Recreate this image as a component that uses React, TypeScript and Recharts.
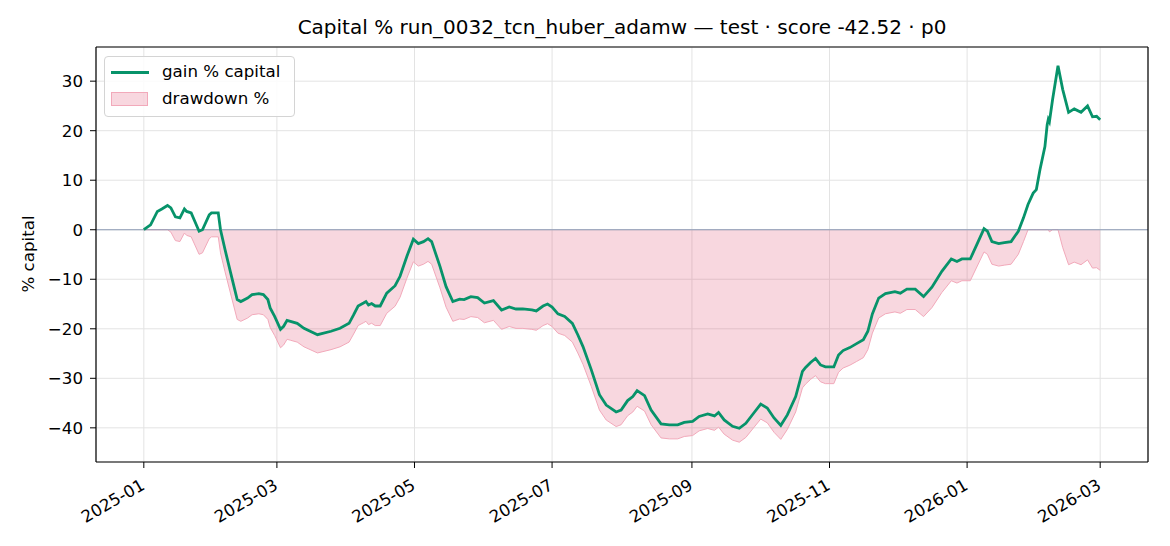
import { Area, CartesianGrid, ComposedChart, Legend, Line, ReferenceLine, XAxis, YAxis } from 'recharts'

// Capital % over the test period: gain line + drawdown band below 0.
// x = days since 2025-01-01.

const FONT = '"DejaVu Sans", Verdana, sans-serif'
const GREEN = '#07936a'
const PINK = '#e0486e'
const PINK_EDGE = '#f2a9ba'

const dayOffset = [
  0, 3, 6, 8, 10.5, 12, 14, 16, 18, 19, 21, 24.5, 26, 29, 30, 33, 34, 36, 38.5, 41.4,
  43, 46, 48, 51, 53, 55, 56, 58, 60.6, 62, 63.5, 65, 68, 71, 77, 83, 87, 91, 93, 95,
  97.4, 98.5, 99.6, 101, 102.6, 104.8, 107.7, 111.4, 113.6, 116.6, 119.5, 121.7, 124, 126, 127.6, 131.3, 134, 137, 140, 142,
  145, 148, 151, 155, 158.6, 162, 165, 168, 172, 174, 177, 179, 181, 183.6, 186.6, 190, 192.4, 194.7, 198.4, 202,
  205, 209.4, 211.6, 214.5, 216.8, 218.7, 222, 224.9, 229.3, 233, 236.7, 239.6, 243.3, 246.2, 250, 253, 254.8, 257.3, 261, 264,
  266.9, 270.6, 273.5, 276.4, 279.4, 282.4, 285.3, 289, 292, 293.4, 295.6, 297.8, 300, 302.2, 305.9, 308, 310, 313, 316, 319,
  321, 323, 325.8, 328.8, 333, 335.4, 338.3, 342, 345.7, 349.4, 353.8, 358, 360.5, 362.7, 366.4, 369.3, 372.5, 374, 376, 379,
  381.5, 384.5, 387.7, 390, 392, 394.3, 395.7, 397.3, 399.5, 400.5, 401, 401.5, 402.9, 405.3, 407.4, 410, 412.5, 415.5, 418.4, 420.6,
  422.4, 424,
]

const gainPct = [
  0, 1.0, 3.7, 4.2, 4.9, 4.4, 2.6, 2.4, 4.2, 3.7, 3.4, -0.3, 0, 3.0, 3.4, 3.4, 0, -4.0, -8.7, -14.1,
  -14.5, -13.8, -13.1, -12.9, -13.1, -14.1, -15.8, -17.5, -20.1, -19.5, -18.3, -18.5, -18.9, -19.9, -21.2, -20.5, -19.9, -18.9, -17.2, -15.4,
  -14.8, -14.5, -15.2, -14.9, -15.4, -15.4, -12.8, -11.3, -9.4, -5.4, -1.9, -2.8, -2.4, -1.8, -2.4, -7.4, -11.5, -14.5, -14.0, -14.1,
  -13.5, -13.7, -14.8, -14.3, -16.2, -15.6, -16.0, -16.0, -16.2, -16.4, -15.4, -15.0, -15.6, -17.0, -17.5, -18.9, -21.2, -23.6, -28.3, -33.3,
  -35.4, -36.8, -36.4, -34.5, -33.7, -32.5, -33.5, -36.4, -39.2, -39.4, -39.4, -38.9, -38.7, -37.7, -37.2, -37.6, -36.9, -38.4, -39.7, -40.1,
  -39.1, -36.9, -35.2, -36.0, -38.0, -39.5, -37.4, -33.7, -28.6, -27.8, -26.8, -26.0, -27.3, -27.7, -27.7, -25.3, -24.4, -23.8, -23.0, -22.2,
  -20.5, -17.0, -13.8, -12.9, -12.5, -12.8, -12.0, -12.0, -13.5, -11.6, -8.4, -5.9, -6.4, -5.9, -5.9, -3.0, 0.2, -0.3, -2.4, -2.8,
  -2.6, -2.4, -0.3, 2.4, 5.1, 7.4, 8.1, 12.1, 16.8, 21.2, 22.3, 21.8, 26.3, 33.1, 28.3, 23.7, 24.4, 23.7, 25.0, 22.8,
  22.9, 22.2,
]

const drawdownPct = [
  0, 0, 0, 0, 0, -0.48, -2.19, -2.38, -0.67, -1.14, -1.43, -4.96, -4.67, -1.81, -1.43, -1.43, -4.67, -8.48, -12.96, -18.11,
  -18.49, -17.83, -17.16, -16.97, -17.16, -18.11, -19.73, -21.35, -23.83, -23.26, -22.12, -22.31, -22.69, -23.64, -24.88, -24.21, -23.64, -22.69, -21.07, -19.35,
  -18.78, -18.49, -19.16, -18.88, -19.35, -19.35, -16.87, -15.44, -13.63, -9.82, -6.48, -7.34, -6.96, -6.39, -6.96, -11.73, -15.63, -18.49, -18.02, -18.11,
  -17.54, -17.73, -18.78, -18.3, -20.11, -19.54, -19.92, -19.92, -20.11, -20.3, -19.35, -18.97, -19.54, -20.88, -21.35, -22.69, -24.88, -27.17, -31.65, -36.42,
  -38.42, -39.75, -39.37, -37.56, -36.8, -35.65, -36.61, -39.37, -42.04, -42.23, -42.23, -41.75, -41.56, -40.61, -40.13, -40.51, -39.85, -41.28, -42.48, -42.9,
  -41.94, -39.85, -38.23, -38.99, -40.9, -42.33, -40.32, -36.8, -31.93, -31.17, -30.22, -29.46, -30.7, -31.08, -31.08, -28.79, -27.93, -27.36, -26.6, -25.83,
  -24.21, -20.88, -17.83, -16.97, -16.59, -16.87, -16.11, -16.11, -17.54, -15.73, -12.68, -10.3, -10.77, -10.3, -10.3, -7.53, -4.48, -4.96, -6.96, -7.34,
  -7.15, -6.96, -4.96, -2.38, 0, 0, 0, 0, 0, 0, 0, -0.41, 0, 0, -3.61, -7.06, -6.54, -7.06, -6.09, -7.74,
  -7.66, -8.19,
]

const xTickDays = [0, 59, 120, 181, 243, 304, 365, 424]
const xTickLabels = ['2025-01', '2025-03', '2025-05', '2025-07', '2025-09', '2025-11', '2026-01', '2026-03']
const yTicks = [-40, -30, -20, -10, 0, 10, 20, 30]

const TITLE = 'Capital % run_0032_tcn_huber_adamw — test · score -42.52 · p0'
const GAIN_NAME = 'gain % capital'
const DD_NAME = 'drawdown %'

const data = dayOffset.map((d, i) => ({ d, gain: gainPct[i], dd: drawdownPct[i] }))

const DateTick = ({ x, y, payload }: any) => {
  const i = xTickDays.indexOf(payload.value)
  return (
    <text
      transform={`translate(${x - 4},${y + 10}) rotate(-30)`}
      textAnchor="end"
      dy="0.72em"
      fontFamily={FONT}
      fontSize={16.67}
      fill="#000"
    >
      {xTickLabels[i]}
    </text>
  )
}

const LegendBox = () => (
  <div
    style={{
      position: 'relative',
      width: 191,
      height: 61,
      boxSizing: 'border-box',
      border: '1px solid #d4d4d4',
      borderRadius: 4,
      background: 'rgba(255,255,255,0.85)',
      fontFamily: FONT,
      fontSize: 16.67,
      color: '#000',
    }}
  >
    <div style={{ position: 'absolute', left: 6, top: 14, width: 38, height: 2.6, background: GREEN }} />
    <div style={{ position: 'absolute', left: 57, top: 3, lineHeight: '24px' }}>{GAIN_NAME}</div>
    <div
      style={{
        position: 'absolute',
        left: 6,
        top: 35,
        width: 37,
        height: 14,
        boxSizing: 'border-box',
        border: `1px solid ${PINK_EDGE}`,
        background: 'rgba(224,72,110,0.22)',
      }}
    />
    <div style={{ position: 'absolute', left: 57, top: 30, lineHeight: '24px' }}>{DD_NAME}</div>
  </div>
)

export default function App() {
  return (
    <div style={{ position: 'absolute', left: 0, top: 0, width: 1170, height: 546, background: '#fff' }}>
      <div
        style={{
          position: 'absolute',
          left: 0,
          width: 1244,
          top: 15,
          textAlign: 'center',
          fontFamily: FONT,
          fontSize: 20,
          lineHeight: 'normal',
          color: '#000',
          whiteSpace: 'nowrap',
        }}
      >
        {TITLE}
      </div>
      <div
        style={{
          position: 'absolute',
          left: 28,
          top: 254,
          transform: 'translate(-50%, -50%) rotate(-90deg)',
          fontFamily: FONT,
          fontSize: 16.67,
          whiteSpace: 'nowrap',
          color: '#000',
        }}
      >
        % capital
      </div>
      <ComposedChart
        width={1170}
        height={546}
        data={data}
        margin={{ top: 46, right: 21, bottom: 24, left: 36 }}
        style={{ position: 'absolute', left: 0, top: 0 }}
      >
        <CartesianGrid stroke="#e3e3e3" strokeWidth={1} />
        <XAxis
          dataKey="d"
          type="number"
          domain={[-21.2, 445.2]}
          ticks={xTickDays}
          interval={0}
          height={60}
          tick={<DateTick />}
          tickSize={6}
          tickMargin={0}
          axisLine={{ stroke: '#000', strokeWidth: 1.2 }}
          tickLine={{ stroke: '#000', strokeWidth: 1 }}
          allowDataOverflow
        />
        <XAxis
          xAxisId="top"
          orientation="top"
          type="number"
          dataKey="d"
          domain={[-21.2, 445.2]}
          height={1}
          tick={false}
          tickLine={false}
          axisLine={{ stroke: '#000', strokeWidth: 1.2 }}
        />
        <YAxis
          type="number"
          domain={[-46.9, 36.9]}
          ticks={yTicks}
          interval={0}
          width={60}
          tickSize={6}
          tickMargin={7}
          tick={{ fontFamily: FONT, fontSize: 16.67, fill: '#000' }}
          tickFormatter={(v: number) => (v < 0 ? `\u2212${Math.abs(v)}` : `${v}`)}
          axisLine={{ stroke: '#000', strokeWidth: 1.2 }}
          tickLine={{ stroke: '#000', strokeWidth: 1 }}
          allowDataOverflow
        />
        <YAxis
          yAxisId="right"
          orientation="right"
          type="number"
          domain={[-46.9, 36.9]}
          width={1}
          tick={false}
          tickLine={false}
          axisLine={{ stroke: '#000', strokeWidth: 1.2 }}
        />
        <Area
          type="linear"
          dataKey="dd"
          name={DD_NAME}
          baseValue={0}
          fill={PINK}
          fillOpacity={0.22}
          stroke={PINK_EDGE}
          strokeWidth={1}
          isAnimationActive={false}
          dot={false}
          activeDot={false}
        />
        <ReferenceLine y={0} stroke="#8b9ab4" strokeWidth={1.2} />
        <Line
          type="linear"
          dataKey="gain"
          name={GAIN_NAME}
          stroke={GREEN}
          strokeWidth={2.8}
          dot={false}
          activeDot={false}
          isAnimationActive={false}
        />
        <Legend
          layout="vertical"
          align="center"
          verticalAlign="middle"
          content={() => <LegendBox />}
          wrapperStyle={{ left: 104, top: 56, width: 191, height: 61 }}
        />
      </ComposedChart>
    </div>
  )
}
